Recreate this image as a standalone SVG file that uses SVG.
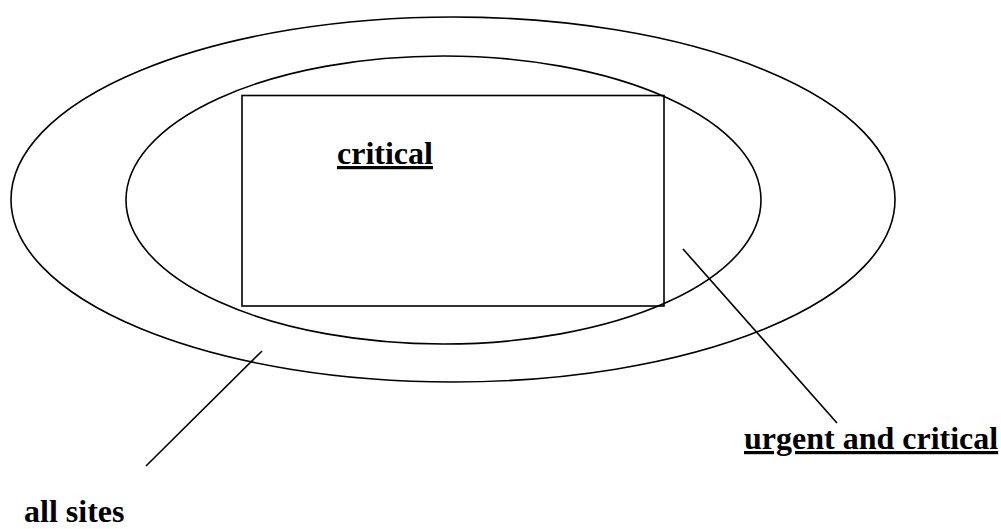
<svg xmlns="http://www.w3.org/2000/svg" width="1001" height="529" viewBox="0 0 1001 529">
<style>
.s{fill:none;stroke:#000;stroke-width:1.6}
.t{font-family:"Liberation Serif","Times New Roman",serif;font-weight:bold;font-size:32px;fill:#000}
</style>
<rect width="1001" height="529" fill="#fff"/>
<g id="all-sites"><ellipse class="s" cx="453" cy="199.5" rx="442" ry="182.5"/></g>
<g id="urgent-and-critical"><ellipse class="s" cx="443.5" cy="200" rx="317.5" ry="144"/></g>
<g id="critical-box"><rect class="s" x="242" y="95.5" width="422" height="210.5"/>
<text class="t" x="337" y="164" text-decoration="underline">critical</text></g>
<g id="connectors">
<line class="s" x1="683" y1="249" x2="837" y2="423"/>
<line class="s" x1="262" y1="351" x2="146" y2="466"/>
</g>
<g id="labels">
<text class="t" x="744" y="449" text-decoration="underline">urgent and critical</text>
<text class="t" x="24" y="522">all sites</text>
</g>
</svg>
